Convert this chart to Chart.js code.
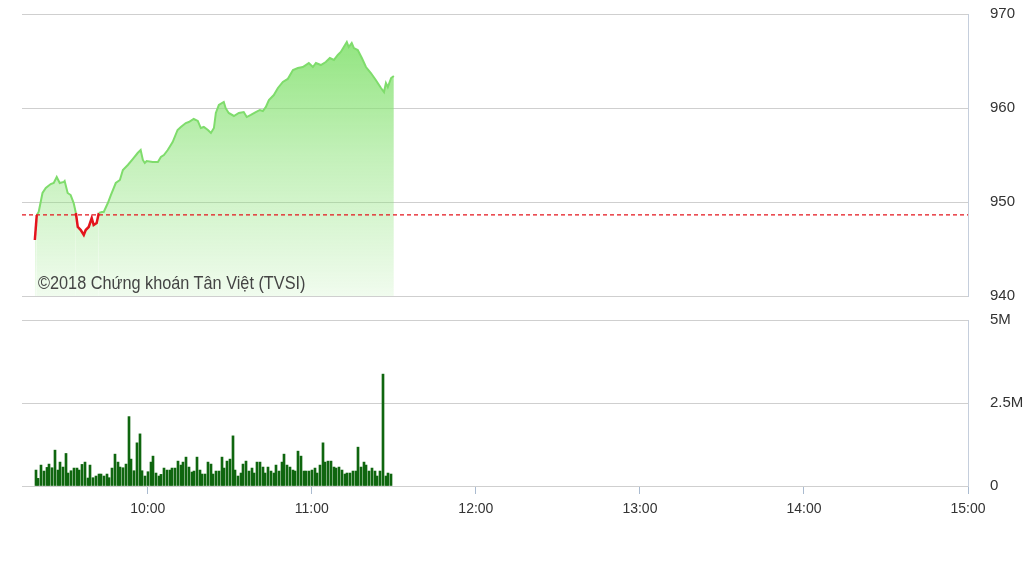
<!DOCTYPE html>
<html>
<head>
<meta charset="utf-8">
<script src="https://cdn.jsdelivr.net/npm/chart.js@4.4.1/dist/chart.umd.min.js"></script>
<style>
  body { margin: 0; background: #fff; width: 1023px; height: 575px; overflow: hidden; position: relative; }
  #priceCanvas { position: absolute; left: 0; top: 0; }
  #volCanvas { position: absolute; left: 0; top: 310px; }
  #brand { position: absolute; left: 38px; top: 273px; font: 17.5px "Liberation Sans", Arial, sans-serif; color: #444;
           transform: scaleX(0.93); transform-origin: left top; white-space: nowrap; }
</style>
</head>
<body>
<canvas id="priceCanvas" width="1023" height="320"></canvas>
<canvas id="volCanvas" width="1023" height="265"></canvas>
<div id="brand">©2018 Chứng khoán Tân Việt (TVSI)</div>
<script>
// Thoi gian (phut tu 0:00) va gia VN-Index
const priceTimes = [558.7, 559.4, 560.1, 561.5, 562.7, 564.5, 565.6, 566.7, 567.8, 569.3, 569.6, 570.7, 571.8, 572.9, 573.7, 574.4, 575.5, 576.6, 577.3, 578.4,
  579.5, 580.2, 581.3, 582.1, 583.2, 583.9, 585.4, 586.5, 588.3, 589.8, 590.9, 592.7, 594.5, 596.3, 597.4, 598.2, 598.9, 599.6, 601.8, 603.7,
  604.8, 605.9, 607.3, 609.1, 610.9, 612.1, 613.9, 615.0, 616.8, 618.3, 619.4, 620.5, 622.0, 623.1, 624.2, 624.9, 626.0, 627.8, 628.5, 629.6,
  631.5, 633.3, 635.1, 636.2, 637.7, 639.5, 641.0, 642.1, 643.2, 644.3, 646.1, 647.6, 649.4, 651.2, 653.1, 654.9, 656.7, 657.8, 658.9, 660.4,
  661.5, 663.3, 665.1, 666.6, 668.1, 669.5, 670.6, 671.7, 672.8, 673.5, 674.6, 675.4, 676.8, 678.3, 679.8, 681.6, 683.4, 685.3, 686.4, 687.1,
  687.8, 689.0, 690.0];
const prices = [945.96, 948.62, 948.94, 950.96, 951.49, 951.91, 952.02, 952.66, 952.02, 952.13, 952.23, 950.96, 950.74, 949.89, 948.83, 947.34, 947.02, 946.49, 947.02, 947.34,
  948.30, 947.55, 947.77, 948.83, 948.94, 948.94, 949.89, 950.74, 952.02, 952.34, 953.40, 953.94, 954.57, 955.21, 955.53, 954.47, 954.15, 954.36, 954.26, 954.26,
  954.79, 955.00, 955.53, 956.38, 957.66, 957.98, 958.40, 958.51, 958.83, 958.62, 957.87, 957.98, 957.66, 957.34, 957.87, 959.47, 960.32, 960.64, 959.98, 959.47,
  959.15, 959.47, 959.57, 959.04, 959.26, 959.57, 959.79, 959.68, 960.11, 960.85, 961.38, 962.13, 962.77, 963.09, 964.04, 964.25, 964.36, 964.57, 964.79, 964.36,
  964.79, 964.57, 964.89, 965.32, 965.11, 965.64, 965.96, 966.49, 967.02, 966.49, 966.91, 966.38, 966.17, 965.32, 964.36, 963.72, 962.98, 962.13, 961.70, 962.66,
  962.23, 963.19, 963.40];
const refPrice = 948.62; // gia tham chieu

// Khoi luong (trieu CP) moi phut, bat dau 9:19
const volStart = 559;
const volumes = [0.48, 0.23, 0.63, 0.45, 0.56, 0.66, 0.55, 1.08, 0.48, 0.72, 0.57, 0.98, 0.39, 0.46, 0.54, 0.54, 0.48, 0.65, 0.72, 0.24,
  0.63, 0.25, 0.30, 0.36, 0.36, 0.30, 0.36, 0.25, 0.54, 0.96, 0.72, 0.57, 0.55, 0.66, 2.09, 0.81, 0.46, 1.30, 1.57, 0.46,
  0.30, 0.43, 0.72, 0.90, 0.39, 0.30, 0.35, 0.54, 0.48, 0.48, 0.54, 0.54, 0.75, 0.63, 0.72, 0.87, 0.57, 0.42, 0.45, 0.87,
  0.48, 0.36, 0.36, 0.72, 0.66, 0.36, 0.45, 0.45, 0.87, 0.54, 0.75, 0.81, 1.51, 0.48, 0.30, 0.39, 0.66, 0.75, 0.45, 0.54,
  0.39, 0.72, 0.72, 0.57, 0.39, 0.57, 0.45, 0.39, 0.63, 0.45, 0.72, 0.96, 0.63, 0.57, 0.48, 0.45, 1.05, 0.90, 0.45, 0.45,
  0.45, 0.48, 0.54, 0.39, 0.63, 1.30, 0.72, 0.75, 0.75, 0.57, 0.54, 0.57, 0.48, 0.36, 0.39, 0.39, 0.45, 0.45, 1.17, 0.57,
  0.72, 0.63, 0.45, 0.54, 0.45, 0.30, 0.45, 3.37, 0.30, 0.39, 0.36];

const priceTicks = [940, 950, 960, 970];
const volTicks = [0, 2.5, 5];
const hourTicks = [600, 660, 720, 780, 840, 900];
const xMin = 554, xMax = 900;

const green = '#7fdc6c';
const red = '#e3141c';
const fontFam = '"Liberation Sans", Arial, sans-serif';

function hhmm(v) {
    return Math.floor(v / 60) + ':' + String(v % 60).padStart(2, '0');
}

// bo khoang dem tu nhan cua truc de vung ve dung vi tri
function noPad(s) {
    s.paddingTop = 0;
    s.paddingBottom = 0;
}

// cot khoi luong nam tron tren luoi pixel cho net
const snapBars = {
    id: 'snapBars',
    beforeDatasetsDraw(chart) {
        chart.getDatasetMeta(0).data.forEach(b => { b.x = Math.round(b.x); });
    }
};

const pricePts = priceTimes.map((t, i) => ({ x: t, y: prices[i] }));
const volPts = volumes.map((v, i) => ({ x: volStart + i, y: v }));
const refPts = [{ x: xMin, y: refPrice }, { x: xMax, y: refPrice }];

new Chart(document.getElementById('priceCanvas'), {
    type: 'line',
    data: {
        datasets: [{
            data: refPts,
            borderColor: red,
            borderWidth: 1.2,
            borderDash: [4, 3],
            pointRadius: 0,
            fill: false
        }, {
            data: pricePts,
            borderWidth: 2,
            pointRadius: 0,
            tension: 0,
            fill: 'start',
            borderColor: green,
            segment: {
                borderColor: ctx => (ctx.p0.parsed.y + ctx.p1.parsed.y) / 2 < refPrice ? red : green,
                borderWidth: ctx => (ctx.p0.parsed.y + ctx.p1.parsed.y) / 2 < refPrice ? 2.5 : 2
            },
            backgroundColor: ctx => {
                const area = ctx.chart.chartArea;
                if (!area) return 'rgba(140,225,120,0.5)';
                const g = ctx.chart.ctx.createLinearGradient(0, area.top, 0, area.bottom);
                g.addColorStop(0, 'rgba(135,226,115,1)');
                g.addColorStop(0.5, 'rgba(135,226,115,0.5)');
                g.addColorStop(1, 'rgba(135,226,115,0.12)');
                return g;
            }
        }]
    },
    options: {
        responsive: false,
        animation: false,
        devicePixelRatio: 1,
        layout: { padding: { left: 22, top: 14, bottom: 24, right: 0 } },
        plugins: { legend: { display: false }, tooltip: { enabled: false } },
        scales: {
            x: { type: 'linear', min: xMin, max: xMax, display: false },
            y: {
                position: 'right',
                min: 940, max: 970,
                afterBuildTicks: s => { s.ticks = priceTicks.map(v => ({ value: v })); },
                afterFit: s => { s.width = 55; noPad(s); },
                grid: { color: '#cfcfcf', drawTicks: false },
                border: { display: true, color: '#c5cedc' },
                ticks: { padding: 22, color: '#333', font: { size: 15, family: fontFam } }
            }
        }
    }
});

new Chart(document.getElementById('volCanvas'), {
    type: 'bar',
    data: {
        datasets: [{
            data: volPts,
            backgroundColor: '#0f660f',
            barThickness: 2
        }]
    },
    plugins: [snapBars],
    options: {
        responsive: false,
        animation: false,
        devicePixelRatio: 1,
        layout: { padding: { left: 22, top: 10, bottom: 49, right: 0 } },
        plugins: { legend: { display: false }, tooltip: { enabled: false } },
        scales: {
            x: {
                type: 'linear', min: xMin, max: xMax, offset: false,
                afterBuildTicks: s => { s.ticks = hourTicks.map(v => ({ value: v })); },
                afterFit: s => { s.height = 40; },
                grid: { offset: false, drawOnChartArea: false, drawTicks: true, tickLength: 8, color: '#aabbd0' },
                border: { display: false },
                ticks: { padding: 7, maxRotation: 0, color: '#333', font: { size: 14, family: fontFam }, callback: v => hhmm(v) }
            },
            y: {
                position: 'right',
                min: 0, max: 5,
                afterBuildTicks: s => { s.ticks = volTicks.map(v => ({ value: v })); },
                afterFit: s => { s.width = 55; noPad(s); },
                grid: { color: '#cfcfcf', drawTicks: false },
                border: { display: true, color: '#c5cedc' },
                ticks: { padding: 22, color: '#333', font: { size: 15, family: fontFam }, callback: v => v === 0 ? '0' : v + 'M' }
            }
        }
    }
});
</script>
</body>
</html>
